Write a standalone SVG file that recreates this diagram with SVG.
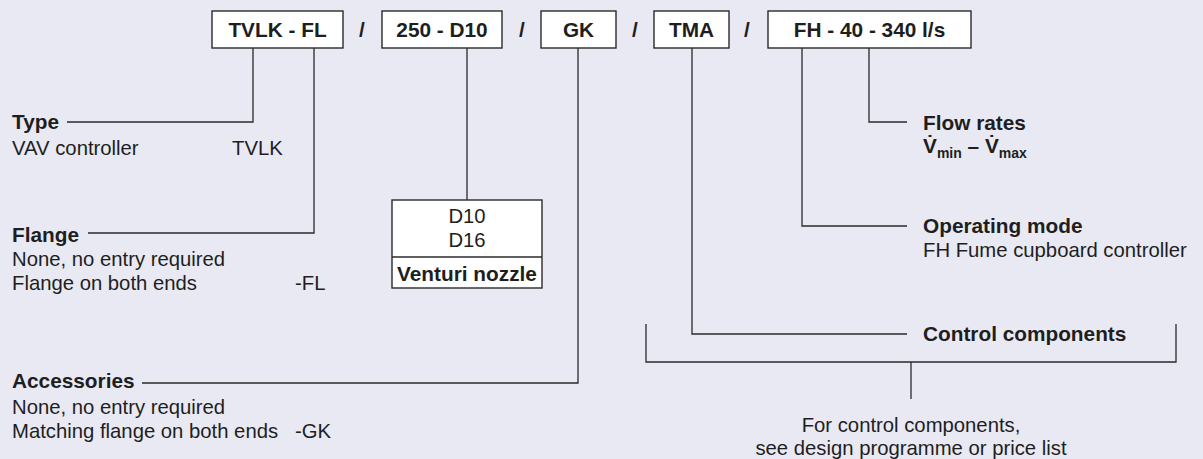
<svg xmlns="http://www.w3.org/2000/svg" width="1203" height="459" viewBox="0 0 1203 459">
  <style>
    .bg { fill: #e9e9f3; }
    .box { fill: #ffffff; stroke: #2a2a2a; stroke-width: 1.4; }
    .ln { fill: none; stroke: #2a2a2a; stroke-width: 1.3; }
    text { font-family: "Liberation Sans", Arial, Helvetica, sans-serif; fill: #1e1e1e; }
    .b { font-weight: bold; font-size: 20.8px; }
    .r { font-size: 20.3px; }
    .s { font-weight: bold; font-size: 14px; }
    .m { text-anchor: middle; }
  </style>
  <rect class="bg" x="0" y="0" width="1203" height="459"/>

  <g id="connectors">
    <polyline class="ln" points="253,48 253,122 67,122"/>
    <polyline class="ln" points="314,48 314,233 88,233"/>
    <line class="ln" x1="467" y1="48" x2="467" y2="200"/>
    <polyline class="ln" points="578,48 578,383 142,383"/>
    <polyline class="ln" points="692,48 692,334 907,334"/>
    <polyline class="ln" points="802,48 802,226 907,226"/>
    <polyline class="ln" points="869,48 869,122 907,122"/>
    <polyline class="ln" points="646,324 646,362 1176,362 1176,324"/>
    <line class="ln" x1="911" y1="362" x2="911" y2="399"/>
  </g>

  <g id="code-tvlk">
    <rect class="box" x="212" y="11" width="131" height="37"/>
    <text class="b m" x="277.5" y="37">TVLK - FL</text>
  </g>
  <g id="slash-1"><text class="b m" x="362" y="37">/</text></g>
  <g id="code-size">
    <rect class="box" x="382" y="11" width="120" height="37"/>
    <text class="b m" x="442" y="37">250 - D10</text>
  </g>
  <g id="slash-2"><text class="b m" x="522" y="37">/</text></g>
  <g id="code-gk">
    <rect class="box" x="541" y="11" width="75" height="37"/>
    <text class="b m" x="578.5" y="37">GK</text>
  </g>
  <g id="slash-3"><text class="b m" x="635" y="37">/</text></g>
  <g id="code-tma">
    <rect class="box" x="654" y="11" width="75" height="37"/>
    <text class="b m" x="691.5" y="37">TMA</text>
  </g>
  <g id="slash-4"><text class="b m" x="747" y="37">/</text></g>
  <g id="code-fh">
    <rect class="box" x="768" y="11" width="203" height="37"/>
    <text class="b m" x="869.5" y="37">FH - 40 - 340 l/s</text>
  </g>

  <g id="type">
    <text class="b" x="12" y="129">Type</text>
    <text class="r" x="12" y="155">VAV controller</text>
    <text class="r" x="232" y="155">TVLK</text>
  </g>

  <g id="flange">
    <text class="b" x="12" y="242">Flange</text>
    <text class="r" x="12" y="266">None, no entry required</text>
    <text class="r" x="12" y="290">Flange on both ends</text>
    <text class="r" x="295" y="290">-FL</text>
  </g>

  <g id="venturi">
    <rect class="box" x="392" y="200" width="150" height="88"/>
    <line class="ln" x1="392" y1="257" x2="542" y2="257"/>
    <text class="r m" x="467" y="223">D10</text>
    <text class="r m" x="467" y="247">D16</text>
    <text class="b m" x="467" y="281">Venturi nozzle</text>
  </g>

  <g id="accessories">
    <text class="b" x="12" y="388">Accessories</text>
    <text class="r" x="12" y="414">None, no entry required</text>
    <text class="r" x="12" y="438">Matching flange on both ends</text>
    <text class="r" x="295" y="438">-GK</text>
  </g>

  <g id="flow-rates">
    <text class="b" x="923" y="130">Flow rates</text>
    <text class="b" x="923" y="153">V&#x307;<tspan class="s" dy="5">min</tspan><tspan dy="-5"> – V&#x307;</tspan><tspan class="s" dy="5">max</tspan></text>
  </g>

  <g id="operating-mode">
    <text class="b" x="923" y="233">Operating mode</text>
    <text class="r" x="923" y="257">FH Fume cupboard controller</text>
  </g>

  <g id="control-components">
    <text class="b" x="923" y="341">Control components</text>
  </g>

  <g id="control-note">
    <text class="r m" x="911" y="432">For control components,</text>
    <text class="r m" x="911" y="455">see design programme or price list</text>
  </g>
</svg>
